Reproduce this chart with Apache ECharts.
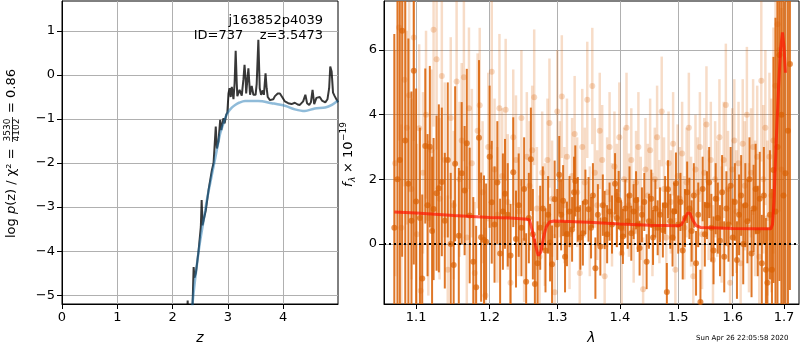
<!DOCTYPE html>
<html>
<head>
<meta charset="utf-8">
<title>zfit</title>
<script src="https://cdn.jsdelivr.net/npm/echarts@6/dist/echarts.min.js"></script>
<style>
html, body { margin: 0; padding: 0; background: #fff; }
#main { width: 800px; height: 350px; }
</style>
</head>
<body>
<div id="main"></div>
<script type="text/javascript">
var FONT = 'DejaVu Sans';

// tick values
var zTicks = [0, 1, 2, 3, 4];
var pzTicks = [-5, -4, -3, -2, -1, 0, 1];
var lamTicks = [1.1, 1.2, 1.3, 1.4, 1.5, 1.6, 1.7];
var fluxTicks = [0, 2, 4, 6];

// left panel: log p(z), [z, value]
var logpz = [
  [2.25,-5.6],[2.268,-5.3],[2.272,-5.12],[2.28,-5.5],[2.33,-5.8],[2.36,-5.25],[2.38,-4.36],[2.395,-4.6],
  [2.42,-4.5],[2.44,-4.3],[2.47,-3.98],[2.51,-3.45],[2.525,-2.84],[2.54,-3.41],[2.56,-3.38],[2.60,-3.07],
  [2.65,-2.61],[2.71,-2.16],[2.74,-2.0],[2.755,-1.7],[2.78,-1.17],[2.80,-1.67],[2.83,-1.5],[2.86,-1.02],
  [2.88,-1.25],[2.92,-0.98],[2.94,-1.1],[2.97,-0.9],[2.99,-0.85],[3.01,-0.42],[3.03,-0.3],[3.05,-0.5],
  [3.07,-0.27],[3.10,-0.55],[3.12,-0.2],[3.14,0.55],[3.16,-0.2],[3.17,-0.48],[3.21,-0.34],[3.25,-0.47],
  [3.28,-0.1],[3.30,0.23],[3.32,-0.1],[3.33,-0.42],[3.37,0.15],[3.40,-0.45],[3.43,-0.25],[3.46,-0.45],
  [3.50,-0.45],[3.52,-0.2],[3.55,0.80],[3.575,-0.3],[3.60,-0.45],[3.63,-0.35],[3.65,-0.45],[3.68,0.04],
  [3.70,-0.3],[3.72,-0.5],[3.76,-0.57],[3.79,-0.60],[3.82,-0.55],[3.85,-0.48],[3.90,-0.42],[3.94,-0.42],
  [3.98,-0.5],[4.03,-0.6],[4.09,-0.64],[4.15,-0.66],[4.21,-0.63],[4.26,-0.67],[4.30,-0.68],[4.36,-0.6],
  [4.40,-0.45],[4.43,-0.64],[4.47,-0.68],[4.50,-0.62],[4.53,-0.34],[4.56,-0.66],[4.60,-0.52],[4.63,-0.55],
  [4.66,-0.5],[4.70,-0.58],[4.76,-0.62],[4.80,-0.55],[4.83,-0.3],[4.85,0.19],[4.875,0.08],[4.90,-0.4],
  [4.93,-0.48],[4.96,-0.5],[4.99,-0.62]
];
// left panel: smooth prior/model curve
var logpzSmooth = [
  [2.35,-5.4],[2.36,-5.19],[2.405,-4.66],[2.45,-4.2],[2.50,-3.75],[2.56,-3.3],[2.62,-2.84],[2.68,-2.45],
  [2.74,-2.08],[2.80,-1.7],[2.86,-1.33],[2.92,-1.1],[2.96,-0.95],[3.01,-0.83],[3.07,-0.74],[3.13,-0.68],
  [3.2,-0.63],[3.31,-0.59],[3.55,-0.59],[3.79,-0.64],[4.03,-0.70],[4.21,-0.78],[4.39,-0.82],[4.57,-0.76],
  [4.76,-0.74],[4.88,-0.68],[4.99,-0.58]
];

// right panel: spectrum A (dark), [lambda, flux, err]
var specDark = [
  [1.072,0.5,6],[1.076,2.0,7],[1.079,2.6,5.5],[1.082,6.6,7],[1.086,3.2,6],[1.090,1.86,4.5],[1.094,0.72,4],
  [1.097,5.36,6],[1.100,1.31,3.5],[1.105,0.8,2.8],[1.108,-1.07,2.6],[1.112,3.03,2.4],[1.115,1.2,2.2],
  [1.118,3.01,2.5],[1.121,0.4,2.3],[1.123,1.08,2.2],[1.127,1.57,2.4],[1.130,1.72,2.6],[1.134,1.92,2.3],
  [1.138,0.72,2.1],[1.142,2.6,2.4],[1.146,0.0,2.2],[1.150,-0.65,2.0],[1.152,2.48,2.4],[1.157,0.25,2.1],
  [1.161,2.19,2.2],[1.165,1.65,2.0],[1.168,3.12,2.3],[1.172,0.88,2.1],[1.177,-0.55,2.0],[1.181,-1.34,1.9],
  [1.185,3.29,2.4],[1.188,0.21,2.0],[1.192,0.12,2.0],[1.195,0.07,1.8],[1.200,2.7,2.2],[1.203,1.29,1.9],
  [1.207,0.6,1.8],[1.211,1.9,1.9],[1.215,-0.3,1.7],[1.219,1.0,1.8],[1.222,1.55,1.7],[1.226,0.9,1.6],
  [1.230,-0.36,1.6],[1.234,2.22,1.7],[1.238,0.15,1.5],[1.242,1.2,1.6],[1.246,0.5,1.5],[1.250,1.7,1.6],
  [1.253,-1.17,1.5],[1.257,0.8,1.4],[1.260,2.62,1.6],[1.263,0.3,1.4],[1.266,-1.24,1.4],[1.270,-0.6,1.3],
  [1.274,0.5,1.3],[1.278,1.1,1.3],[1.282,-0.2,1.3],[1.286,0.9,1.2],[1.289,0.04,1.2],[1.292,-0.63,1.2],
  [1.296,1.38,1.2],[1.300,0.6,1.1],[1.303,2.14,1.2],[1.306,0.9,1.1],[1.309,1.34,1.1],[1.312,-0.4,1.1],
  [1.315,0.31,1.0],[1.319,1.0,1.1],[1.323,0.45,1.0],[1.326,1.6,1.1],[1.328,1.95,1.1],[1.332,1.07,1.0],
  [1.336,0.2,1.0],[1.340,0.33,1.0],[1.344,1.3,1.0],[1.349,1.07,1.0],[1.353,0.5,0.95],[1.356,1.5,1.0],
  [1.360,-0.75,0.95],[1.364,0.9,0.95],[1.368,-0.08,0.9],[1.372,1.2,0.95],[1.375,0.74,0.9],[1.379,0.3,0.9],
  [1.383,1.0,0.9],[1.387,0.6,0.9],[1.392,1.86,0.95],[1.395,0.8,0.9],[1.398,1.36,0.9],[1.402,0.5,0.85],
  [1.405,0.23,0.85],[1.409,1.1,0.9],[1.413,0.7,0.85],[1.416,1.5,0.9],[1.419,0.33,0.85],[1.423,1.0,0.85],
  [1.427,1.35,0.9],[1.430,0.6,0.85],[1.433,-0.13,0.85],[1.437,0.9,0.85],[1.441,1.3,0.9],[1.445,-0.55,0.85],
  [1.449,0.7,0.85],[1.453,1.4,0.9],[1.456,0.2,0.85],[1.460,1.1,0.9],[1.464,0.5,0.85],[1.468,0.9,0.85],
  [1.473,0.43,0.85],[1.477,1.2,0.9],[1.480,-1.49,0.9],[1.482,1.69,0.9],[1.486,0.7,0.85],[1.490,0.2,0.9],
  [1.493,1.0,0.9],[1.496,1.88,0.95],[1.500,0.6,0.9],[1.504,1.3,0.9],[1.508,-0.2,0.9],[1.512,0.8,0.9],
  [1.516,1.6,0.95],[1.520,1.1,0.95],[1.524,0.4,0.95],[1.528,1.5,1.0],[1.532,-0.6,1.0],[1.536,0.9,1.0],
  [1.540,-1.8,1.0],[1.544,1.7,1.0],[1.548,0.3,1.0],[1.552,1.2,1.05],[1.556,1.9,1.1],[1.560,0.5,1.05],
  [1.564,-0.2,1.05],[1.568,1.4,1.1],[1.572,0.8,1.1],[1.576,0.1,1.1],[1.580,1.6,1.15],[1.584,-0.4,1.1],
  [1.588,1.1,1.15],[1.592,0.6,1.15],[1.596,1.8,1.2],[1.600,0.2,1.2],[1.604,1.3,1.2],[1.608,-0.5,1.2],
  [1.612,0.9,1.25],[1.616,1.5,1.25],[1.620,0.0,1.25],[1.624,1.2,1.3],[1.628,0.7,1.3],[1.632,2.0,1.3],
  [1.636,-0.3,1.35],[1.640,1.1,1.35],[1.644,1.7,1.4],[1.648,0.4,1.4],[1.652,1.4,1.45],[1.656,-0.6,1.5],
  [1.660,1.5,1.5],[1.664,-0.8,1.6],[1.667,-1.2,1.7],[1.672,0.9,2.0],[1.676,-0.8,2.5],[1.679,2.29,3.5],
  [1.683,1.0,6],[1.687,3.0,8],[1.691,5.85,7],[1.695,4.0,8],[1.699,1.5,7],[1.703,2.19,6],[1.708,3.5,8],
  [1.712,5.57,7]
];

// right panel: spectrum B (faint), [lambda, flux, err]
var specLight = [
  [1.073,2.5,3.5],[1.078,6.7,3.5],[1.081,0.5,3.2],[1.085,5.08,3.3],[1.088,3.6,3.0],[1.091,4.6,3.0],
  [1.094,1.7,2.8],[1.097,6.39,3.2],[1.101,0.3,2.8],[1.104,3.58,2.6],[1.106,-1.45,2.4],[1.109,2.2,2.5],
  [1.113,4.0,2.6],[1.116,0.8,2.4],[1.120,2.9,2.5],[1.123,6.63,3.0],[1.127,5.72,2.8],[1.131,1.4,2.5],
  [1.134,5.2,2.6],[1.138,2.6,2.4],[1.142,-0.8,2.3],[1.146,3.9,2.5],[1.150,1.2,2.3],[1.154,5.03,2.6],
  [1.158,2.0,2.4],[1.161,3.2,2.4],[1.164,5.16,2.6],[1.168,0.2,2.2],[1.171,4.2,2.5],[1.175,2.5,2.3],
  [1.179,-0.9,2.2],[1.183,3.5,2.4],[1.186,4.29,2.4],[1.190,1.6,2.2],[1.194,-1.6,2.1],[1.198,3.0,2.3],
  [1.203,5.33,2.4],[1.207,2.3,2.2],[1.211,0.9,2.1],[1.214,4.2,2.3],[1.218,2.1,2.1],[1.223,4.15,2.2],
  [1.226,1.3,2.1],[1.230,-1.2,2.0],[1.234,3.3,2.1],[1.238,2.6,2.0],[1.242,1.0,2.0],[1.246,3.9,2.1],
  [1.250,0.1,1.9],[1.254,2.7,2.0],[1.258,1.8,2.0],[1.262,2.9,2.0],[1.265,4.54,2.1],[1.269,1.1,1.9],
  [1.273,-0.4,1.9],[1.277,2.2,1.9],[1.281,0.6,1.9],[1.285,2.6,1.9],[1.288,3.74,2.0],[1.292,1.4,1.8],
  [1.296,-1.5,1.8],[1.300,4.1,1.9],[1.304,2.0,1.8],[1.307,4.56,1.9],[1.311,1.2,1.8],[1.315,2.7,1.8],
  [1.319,0.3,1.7],[1.323,2.1,1.8],[1.327,3.4,1.8],[1.331,1.6,1.7],[1.335,-0.9,1.7],[1.339,3.0,1.8],
  [1.343,1.9,1.7],[1.347,4.46,1.8],[1.351,0.7,1.7],[1.355,4.89,1.8],[1.359,2.2,1.7],[1.363,1.2,1.7],
  [1.367,3.5,1.8],[1.371,2.6,1.7],[1.375,-1.0,1.7],[1.379,1.6,1.7],[1.383,3.0,1.7],[1.387,0.9,1.6],
  [1.391,2.4,1.7],[1.395,1.5,1.6],[1.399,3.3,1.7],[1.403,-0.3,1.6],[1.407,2.0,1.6],[1.411,3.6,1.7],
  [1.415,1.2,1.6],[1.419,2.6,1.6],[1.423,0.4,1.6],[1.427,1.9,1.6],[1.431,3.0,1.7],[1.435,1.1,1.6],
  [1.439,-1.4,1.6],[1.443,2.3,1.6],[1.447,1.5,1.6],[1.451,2.9,1.6],[1.455,0.6,1.6],[1.459,2.0,1.6],
  [1.463,3.3,1.6],[1.467,1.0,1.6],[1.471,4.1,1.7],[1.475,1.7,1.6],[1.479,0.2,1.6],[1.483,2.5,1.6],
  [1.487,1.3,1.6],[1.491,3.1,1.6],[1.495,-0.8,1.6],[1.499,2.1,1.6],[1.503,1.4,1.6],[1.507,2.8,1.6],
  [1.511,0.5,1.6],[1.515,1.9,1.7],[1.519,3.6,1.7],[1.523,1.0,1.7],[1.527,-1.0,1.7],[1.531,2.3,1.7],
  [1.535,1.6,1.7],[1.539,3.0,1.7],[1.543,0.3,1.7],[1.547,2.2,1.7],[1.551,3.7,1.8],[1.555,1.2,1.7],
  [1.559,2.6,1.8],[1.563,-0.5,1.7],[1.567,2.0,1.8],[1.571,1.4,1.8],[1.575,3.3,1.8],[1.579,0.6,1.8],
  [1.583,2.6,1.8],[1.587,4.3,1.9],[1.591,1.7,1.8],[1.595,-1.2,1.8],[1.599,2.3,1.9],[1.603,3.2,1.9],
  [1.607,1.0,1.9],[1.611,2.5,1.9],[1.615,-0.6,1.9],[1.619,3.1,2.0],[1.623,1.8,2.0],[1.627,4.0,2.1],
  [1.631,0.5,2.0],[1.635,2.2,2.0],[1.639,3.0,2.1],[1.643,1.1,2.1],[1.647,2.7,2.2],[1.651,-0.4,2.2],
  [1.655,5.05,2.5],[1.659,2.0,2.3],[1.663,3.6,2.4],[1.667,0.8,2.4],[1.671,2.7,2.6],[1.675,1.5,3.0],
  [1.679,3.2,3.5],[1.683,4.9,4.0],[1.687,6.8,4.5],[1.691,6.0,5.0],[1.695,2.3,5.0]
];

// right panel: best-fit template, [lambda, flux]
var specModel = [
  [1.072,0.99],[1.10,0.96],[1.15,0.88],[1.20,0.82],[1.23,0.80],[1.255,0.76],[1.258,0.74],[1.262,0.42],
  [1.267,-0.05],[1.271,-0.36],[1.275,-0.25],[1.279,0.2],[1.283,0.52],[1.288,0.68],[1.295,0.71],[1.35,0.67],
  [1.40,0.62],[1.45,0.58],[1.50,0.56],[1.506,0.6],[1.512,0.8],[1.517,0.96],[1.521,0.95],[1.526,0.74],
  [1.532,0.57],[1.540,0.51],[1.56,0.50],[1.60,0.48],[1.65,0.47],[1.674,0.47],[1.677,0.6],[1.680,1.3],
  [1.684,3.0],[1.689,4.8],[1.693,6.0],[1.697,6.55],[1.700,6.1],[1.703,5.3]
];

var ORANGE = 'rgba(217,95,2,0.85)';
var ORANGE_FAINT = 'rgba(217,95,2,0.22)';
var ORANGE_DOT_FAINT = 'rgba(217,95,2,0.3)';

function errBars(color, width) {
  return function (params, api) {
    var x = api.value(0), y = api.value(1), e = api.value(2);
    var p0 = api.coord([x, y - e]);
    var p1 = api.coord([x, y + e]);
    return {
      type: 'line',
      shape: { x1: p0[0], y1: p0[1], x2: p1[0], y2: p1[1] },
      style: { stroke: color, lineWidth: width }
    };
  };
}

function axisCommon(ticks, fmt) {
  return {
    axisLine: { show: true, onZero: false, lineStyle: { color: '#000', width: 1 } },
    axisTick: { show: true, length: 5, customValues: ticks, lineStyle: { color: '#000' } },
    axisLabel: { customValues: ticks, fontFamily: FONT, fontSize: 13, color: '#000', margin: 7, formatter: fmt },
    splitLine: { show: true, lineStyle: { color: '#b0b0b0', width: 1 } }
  };
}

function num(v) { return String(v).replace('-', '\u2212'); }

var myChart = echarts.init(document.getElementById('main'));

var option = {
  animation: false,
  backgroundColor: '#fff',
  grid: [
    { left: 62, right: 462, top: 1, bottom: 46, show: true, borderColor: '#000', borderWidth: 1, backgroundColor: 'transparent' },
    { left: 384, right: 1, top: 1, bottom: 46, show: true, borderColor: '#000', borderWidth: 1, backgroundColor: 'transparent' }
  ],
  xAxis: [
    Object.assign({
      gridIndex: 0, type: 'value', min: 0, max: 4.99,
      name: 'z', nameLocation: 'middle', nameGap: 27,
      nameTextStyle: { fontFamily: FONT, fontSize: 14, fontStyle: 'italic', color: '#000' }
    }, axisCommon(zTicks, function (v) { return num(v); })),
    Object.assign({
      gridIndex: 1, type: 'log', logBase: 10, min: 1.059, max: 1.7305,
      name: 'λ', nameLocation: 'middle', nameGap: 27,
      nameTextStyle: { fontFamily: FONT, fontSize: 14, fontStyle: 'italic', color: '#000' }
    }, axisCommon(lamTicks, function (v) { return (+v).toFixed(1); }))
  ],
  yAxis: [
    Object.assign({ gridIndex: 0, type: 'value', min: -5.2, max: 1.68 },
      axisCommon(pzTicks, function (v) { return num(v); })),
    Object.assign({ gridIndex: 1, type: 'value', min: -1.86, max: 7.52 },
      axisCommon(fluxTicks, function (v) { return num(v); }))
  ],
  graphic: [
    { type: 'text', right: 477, top: 14, z: 100,
      style: { text: 'j163852p4039', font: '13px "DejaVu Sans"', fill: '#000', textAlign: 'right' } },
    { type: 'text', right: 477, top: 29, z: 100,
      style: { text: 'ID=737    z=3.5473', font: '13px "DejaVu Sans"', fill: '#000', textAlign: 'right' } },
    { type: 'text', left: 696, top: 335,
      style: { text: 'Sun Apr 26 22:05:58 2020', font: '7px "DejaVu Sans"', fill: '#000' } },
    // left y label, rotated
    { type: 'group', x: 12, y: 238, rotation: Math.PI / 2, children: [
      { type: 'text', x: 0, y: 0, style: {
          text: '{r|log }{i|p}{r|(z) / χ² =}', verticalAlign: 'middle', align: 'left',
          rich: { r: { font: '13px "DejaVu Sans"', fill: '#000' }, i: { font: 'italic 13px "DejaVu Sans"', fill: '#000' } } } },
      { type: 'text', x: 108, y: -4, style: { text: '3530', font: '9px "DejaVu Sans"', fill: '#000', align: 'center', verticalAlign: 'middle' } },
      { type: 'line', shape: { x1: 96, y1: 0.5, x2: 121, y2: 0.5 }, style: { stroke: '#000', lineWidth: 0.8 } },
      { type: 'text', x: 108, y: 5, style: { text: '4102', font: '9px "DejaVu Sans"', fill: '#000', align: 'center', verticalAlign: 'middle' } },
      { type: 'text', x: 125, y: 0, style: { text: '= 0.86', font: '13px "DejaVu Sans"', fill: '#000', align: 'left', verticalAlign: 'middle' } }
    ] },
    // right y label, rotated
    { type: 'group', x: 349, y: 187, rotation: Math.PI / 2, children: [
      { type: 'text', x: 0, y: 0, style: { text: 'f', font: 'italic 13px "DejaVu Sans"', fill: '#000', align: 'left', verticalAlign: 'middle' } },
      { type: 'text', x: 5, y: 4, style: { text: 'λ', font: 'italic 9px "DejaVu Sans"', fill: '#000', align: 'left', verticalAlign: 'middle' } },
      { type: 'text', x: 14, y: 0, style: { text: '× 10', font: '13px "DejaVu Sans"', fill: '#000', align: 'left', verticalAlign: 'middle' } },
      { type: 'text', x: 46, y: -5, style: { text: '\u221219', font: '9px "DejaVu Sans"', fill: '#000', align: 'left', verticalAlign: 'middle' } }
    ] }
  ],
  series: [
    { type: 'line', xAxisIndex: 0, yAxisIndex: 0, data: logpz, showSymbol: false, z: 3,
      lineStyle: { color: 'rgba(0,0,0,0.78)', width: 2 } },
    { type: 'line', xAxisIndex: 0, yAxisIndex: 0, data: logpzSmooth, showSymbol: false, smooth: 0.3, z: 4,
      lineStyle: { color: 'rgba(31,119,180,0.5)', width: 2.5 } },

    { type: 'custom', xAxisIndex: 1, yAxisIndex: 1, data: specLight, clip: true, z: 2,
      renderItem: errBars(ORANGE_FAINT, 2.5) },
    { type: 'scatter', xAxisIndex: 1, yAxisIndex: 1, data: specLight, symbolSize: 6, z: 3,
      itemStyle: { color: ORANGE_DOT_FAINT } },
    { type: 'custom', xAxisIndex: 1, yAxisIndex: 1, data: specDark, clip: true, z: 4,
      renderItem: errBars(ORANGE, 2) },
    { type: 'scatter', xAxisIndex: 1, yAxisIndex: 1, data: specDark, symbolSize: 6, z: 5,
      itemStyle: { color: ORANGE },
      markLine: { silent: true, symbol: 'none', label: { show: false }, data: [{ yAxis: 0 }],
        lineStyle: { color: '#000', width: 2, type: [2, 3] } } },
    { type: 'line', xAxisIndex: 1, yAxisIndex: 1, data: specModel, showSymbol: false, z: 7,
      lineStyle: { color: 'rgba(255,20,0,0.7)', width: 3 } }
  ]
};
myChart.setOption(option);
window.onresize = myChart.resize;
</script>
</body>
</html>
